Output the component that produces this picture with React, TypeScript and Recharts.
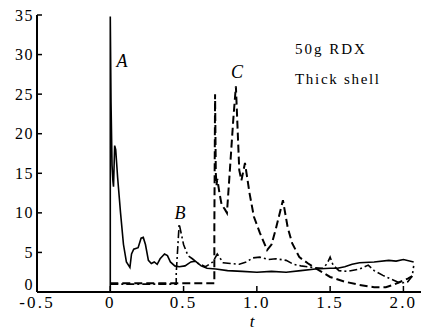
import { LineChart, Line, XAxis, YAxis, ReferenceDot } from "recharts";

// t axis and series values
const xTicks = [-0.5, 0, 0.5, 1.0, 1.5, 2.0];
const yTicks = [0, 5, 10, 15, 20, 25, 30, 35];

// curve A (solid)
const tA = [0, 0, 0.005, 0.012, 0.018, 0.022, 0.03, 0.037, 0.05, 0.07, 0.09, 0.11, 0.134, 0.145, 0.16, 0.19, 0.21, 0.225, 0.24, 0.26, 0.28, 0.3, 0.32, 0.34, 0.37, 0.39, 0.41, 0.44, 0.47, 0.51, 0.55, 0.58, 0.62, 0.66, 0.72, 0.8, 0.9, 1.0, 1.1, 1.2, 1.3, 1.4, 1.5, 1.55, 1.6, 1.65, 1.7, 1.8, 1.9, 1.95, 2.0, 2.07];
const vA = [0, 34.8, 24, 16, 14, 13.3, 18.5, 18, 14.5, 10, 6, 3.8, 3.1, 4.8, 5.4, 5.6, 6.8, 6.9, 6, 4, 3.6, 3.8, 3.5, 4.2, 4.8, 4.6, 3.8, 3.3, 3.2, 3.3, 3.8, 3.9, 3.3, 3.0, 2.9, 2.7, 2.6, 2.5, 2.6, 2.5, 2.7, 2.9, 3.0, 3.0, 3.2, 3.5, 3.7, 3.8, 4.0, 3.9, 4.1, 3.8];

// curve B (dash-dot)
const tB = [0, 0.45, 0.45, 0.47, 0.5, 0.53, 0.56, 0.6, 0.65, 0.7, 0.73, 0.77, 0.82, 0.88, 0.93, 0.97, 1.02, 1.08, 1.13, 1.2, 1.25, 1.3, 1.38, 1.45, 1.48, 1.5, 1.52, 1.56, 1.62, 1.7, 1.76, 1.8, 1.86, 1.92, 1.98, 2.03, 2.06, 2.07];
const vB = [1.0, 1.0, 2.4, 8.6, 6.0, 4.6, 4.2, 3.6, 3.2, 3.8, 4.8, 3.7, 3.6, 3.5, 3.8, 4.3, 4.4, 4.1, 4.2, 4.0, 3.5, 3.3, 3.1, 3.0, 3.6, 4.4, 3.4, 2.7, 2.6, 2.9, 3.4, 2.7, 2.1, 1.6, 1.1, 1.3, 2.0, 3.3];

// curve C (dashed)
const tC = [0, 0.71, 0.71, 0.715, 0.72, 0.725, 0.73, 0.745, 0.76, 0.78, 0.796, 0.82, 0.84, 0.857, 0.88, 0.895, 0.919, 0.95, 0.98, 1.02, 1.07, 1.1, 1.13, 1.15, 1.178, 1.21, 1.24, 1.29, 1.35, 1.4, 1.5, 1.6, 1.7, 1.8, 1.88, 1.93, 1.98, 2.03, 2.06];
const vC = [1.1, 1.1, 8, 25, 15, 13.5, 14.3, 12.5, 11, 10.5, 10, 16.5, 22, 26, 15.4, 14.1, 16.3, 12.5, 9.5, 7.5, 5.3, 6.0, 8.0, 9.5, 11.6, 8.2, 6.2, 4.4, 3.6, 3.0, 1.9, 1.3, 0.9, 0.6, 0.6, 0.9, 1.3, 1.7, 2.0];

const zip = (ts: number[], vs: number[]) => ts.map((t, i) => ({ t, v: vs[i] }));
const dataA = zip(tA, vA);
const dataB = zip(tB, vB);
const dataC = zip(tC, vC);

const FONT = "Liberation Serif, Times New Roman, serif";

const YTick = ({ x, y, payload }: any) => (
  <text
    x={x}
    y={payload.value === 0 ? y - 8 : y}
    dy="0.35em"
    textAnchor="end"
    style={{ fontFamily: FONT, fontSize: 16, letterSpacing: 1.5 }}
    fill="#000"
  >
    {payload.value}
  </text>
);

const XTick = ({ x, y, payload }: any) => (
  <text x={x} y={y} dy="0.71em" textAnchor="middle" style={{ fontFamily: FONT, fontSize: 17, letterSpacing: 2.2 }} fill="#000">
    {payload.value === 0 ? "0" : payload.value.toFixed(1)}
  </text>
);

const note = (x: number, y: number, text: string, italic: boolean, pos: "center" | "right", size: number, spacing = 0) => (
  <ReferenceDot
    key={text}
    x={x}
    y={y}
    r={0}
    stroke="none"
    fill="none"
    label={{
      value: text,
      position: pos,
      offset: 0,
      fill: "#000",
      style: { fontFamily: FONT, fontSize: size, fontStyle: italic ? "italic" : "normal", letterSpacing: spacing },
    }}
  />
);

export default function App() {
  return (
    <div style={{ position: "absolute", left: 0, top: 0, fontFamily: FONT }}>
      <LineChart width={427} height={336} margin={{ top: 15, right: 6, bottom: 0, left: 0 }}>
        <XAxis
          dataKey="t"
          type="number"
          domain={[-0.5, 2.12]}
          ticks={xTicks}
          allowDataOverflow
          height={44}
          stroke="#000"
          axisLine={{ stroke: "#000", strokeWidth: 2 }}
          tickLine={{ stroke: "#000", strokeWidth: 1.5 }}
          tickSize={-6}
          tickMargin={10}
          tick={<XTick />}
          label={{
            value: "t",
            content: ({ viewBox }: any) => (
              <text
                x={viewBox.x + viewBox.width * 0.56}
                y={viewBox.y + 35}
                textAnchor="middle"
                style={{ fontFamily: FONT, fontSize: 17, fontStyle: "italic" }}
                fill="#000"
              >
                t
              </text>
            ),
          }}
        />
        <YAxis
          type="number"
          domain={[0, 35]}
          ticks={yTicks}
          width={37}
          stroke="#000"
          axisLine={{ stroke: "#000", strokeWidth: 2 }}
          tickLine={{ stroke: "#000", strokeWidth: 1.5 }}
          tickSize={-5}
          tickMargin={8}
          tick={<YTick />}
        />
        <Line data={dataA} dataKey="v" type="linear" stroke="#000" strokeWidth={1.6} dot={false} isAnimationActive={false} />
        <Line data={dataB} dataKey="v" type="linear" stroke="#000" strokeWidth={1.6} strokeDasharray="8 3 2 3" dot={false} isAnimationActive={false} />
        <Line data={dataC} dataKey="v" type="linear" stroke="#000" strokeWidth={2} strokeDasharray="8 4" dot={false} isAnimationActive={false} />
        {note(0.08, 29.3, "A", true, "center", 18)}
        {note(0.475, 10.0, "B", true, "center", 18)}
        {note(0.865, 27.8, "C", true, "center", 18)}
        {note(1.26, 30.7, "50g RDX", false, "right", 15, 2)}
        {note(1.26, 26.9, "Thick shell", false, "right", 15, 1.7)}
      </LineChart>
    </div>
  );
}
